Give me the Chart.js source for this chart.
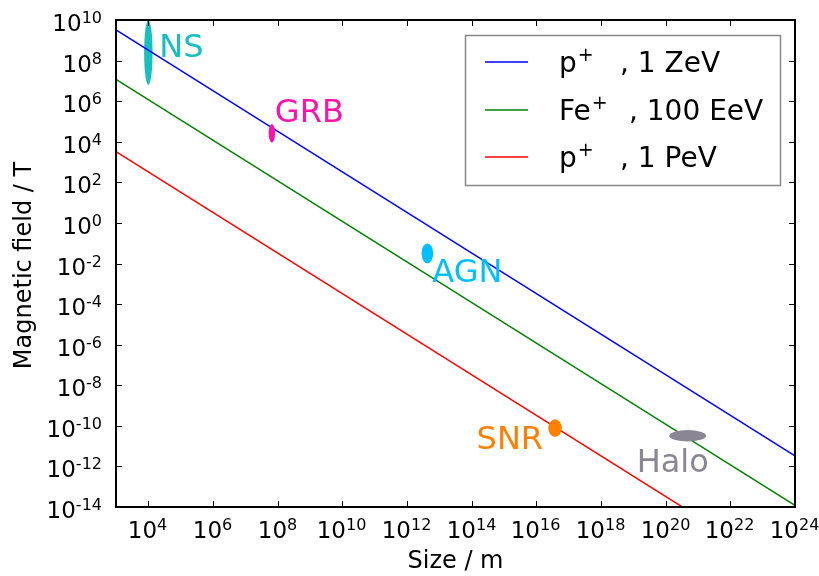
<!DOCTYPE html>
<html>
<head>
<meta charset="utf-8">
<script src="https://cdn.jsdelivr.net/npm/chart.js@4/dist/chart.umd.min.js"></script>
<style>
  html, body { margin: 0; padding: 0; background: #fff; }
  #hillas { display: block; }
</style>
</head>
<body>
<canvas id="hillas" width="819" height="576"></canvas>
<script>
// ============================================================================
// HILLAS PLOT
// Maximum confinement field vs. accelerator size, with candidate sources
// ============================================================================

// Axis ranges (powers of ten) and labelled decades
const sizeRange = [1e3, 1e24];
const fieldRange = [1e-14, 1e10];
const sizeTickExps = [4, 6, 8, 10, 12, 14, 16, 18, 20, 22, 24];
const fieldTickExps = [-14, -12, -10, -8, -6, -4, -2, 0, 2, 4, 6, 8, 10];

// Confinement lines B = E / (Z e c R), given at the two ends of the size range
const lineSizes = [1e3, 1e24];
const protonZeV = [3.3e9, 3.3e-12];
const ironEeV = [1.2e7, 1.2e-14];
const protonPeV = [3.3e3, 3.3e-18];

const seriesParts = [
    { base: 'p', sup: '+', tail: ', 1 ZeV' },
    { base: 'Fe', sup: '+', tail: ', 100 EeV' },
    { base: 'p', sup: '+', tail: ', 1 PeV' }
];

// Source regions, log10 of size (m) and field (T)
const sourceNames = ['NS', 'GRB', 'AGN', 'SNR', 'Halo'];
const sourceLogSize = [[3.87, 4.13], [7.72, 7.92], [12.45, 12.81], [16.37, 16.79], [20.11, 21.25]];
const sourceLogField = [[6.8, 10.0], [3.96, 4.88], [-1.99, -1.01], [-10.54, -9.68], [-10.77, -10.21]];

// Drawing styles
const FONT = '"DejaVu Sans", "Liberation Sans", sans-serif';
const lineColors = ['#0000ff', '#008000', '#ff0000'];
const sourceColors = ['#17bfbf', '#ff14aa', '#00bfff', '#ff8000', '#8a8694'];
const sourceOnTop = [false, true, true, true, true];
const sourceLabelOffset = [[11, 4.5, 'left'], [3, -11.6, 'left'], [5, 28.4, 'left'], [-12, 21.3, 'right'], [-51, 36, 'left']];

function toPoints(ys) {
    return lineSizes.map((x, i) => ({ x: x, y: ys[i] }));
}

function drawPower(ctx, x, baseline, exp, align) {
    const base = '10';
    const sup = String(exp);
    ctx.font = '23px ' + FONT;
    const wb = ctx.measureText(base).width;
    ctx.font = '16px ' + FONT;
    const ws = ctx.measureText(sup).width;
    const total = wb + ws;
    const x0 = align === 'right' ? x - total : x - total / 2;
    ctx.textAlign = 'left';
    ctx.textBaseline = 'alphabetic';
    ctx.font = '23px ' + FONT;
    ctx.fillText(base, x0, baseline);
    ctx.font = '16px ' + FONT;
    ctx.fillText(sup, x0 + wb, baseline - 8);
}

function drawSources(chart, onTop) {
    const { ctx, chartArea: area } = chart;
    const xs = chart.scales.x, ys = chart.scales.y;
    ctx.save();
    ctx.beginPath();
    ctx.rect(area.left, area.top, area.right - area.left, area.bottom - area.top);
    ctx.clip();
    sourceNames.forEach((name, i) => {
        if (sourceOnTop[i] !== onTop) return;
        const x1 = xs.getPixelForValue(Math.pow(10, sourceLogSize[i][0]));
        const x2 = xs.getPixelForValue(Math.pow(10, sourceLogSize[i][1]));
        const y1 = ys.getPixelForValue(Math.pow(10, sourceLogField[i][0]));
        const y2 = ys.getPixelForValue(Math.pow(10, sourceLogField[i][1]));
        ctx.fillStyle = sourceColors[i];
        ctx.beginPath();
        ctx.ellipse((x1 + x2) / 2, (y1 + y2) / 2, Math.abs(x2 - x1) / 2, Math.abs(y2 - y1) / 2, 0, 0, Math.PI * 2);
        ctx.fill();
    });
    ctx.restore();
}

const hillasPlugin = {
    id: 'hillas',
    beforeDatasetsDraw(chart) {
        drawSources(chart, false);
    },
    afterDatasetsDraw(chart) {
        drawSources(chart, true);
    },
    afterDraw(chart) {
        const { ctx, chartArea: area } = chart;
        const xs = chart.scales.x, ys = chart.scales.y;
        ctx.save();

        // source names
        ctx.font = '32px ' + FONT;
        ctx.textBaseline = 'alphabetic';
        sourceNames.forEach((name, i) => {
            const cx = (xs.getPixelForValue(Math.pow(10, sourceLogSize[i][0])) + xs.getPixelForValue(Math.pow(10, sourceLogSize[i][1]))) / 2;
            const cy = (ys.getPixelForValue(Math.pow(10, sourceLogField[i][0])) + ys.getPixelForValue(Math.pow(10, sourceLogField[i][1]))) / 2;
            const [dx, dy, align] = sourceLabelOffset[i];
            ctx.fillStyle = sourceColors[i];
            ctx.textAlign = align;
            ctx.fillText(name, cx + dx, cy + dy);
        });

        // frame
        ctx.strokeStyle = '#000';
        ctx.lineWidth = 2;
        ctx.strokeRect(area.left, area.top, area.right - area.left, area.bottom - area.top);

        // tick marks on all four sides, labels on left and bottom
        ctx.lineWidth = 1;
        ctx.fillStyle = '#000';
        sizeTickExps.forEach(e => {
            const x = Math.round(xs.getPixelForValue(Math.pow(10, e))) + 0.5;
            ctx.beginPath();
            ctx.moveTo(x, area.bottom); ctx.lineTo(x, area.bottom - 6);
            ctx.moveTo(x, area.top); ctx.lineTo(x, area.top + 6);
            ctx.stroke();
            drawPower(ctx, x - 1, area.bottom + 31, e, 'center');
        });
        fieldTickExps.forEach(e => {
            const y = Math.round(ys.getPixelForValue(Math.pow(10, e))) + 0.5;
            ctx.beginPath();
            ctx.moveTo(area.left, y); ctx.lineTo(area.left + 6, y);
            ctx.moveTo(area.right, y); ctx.lineTo(area.right - 6, y);
            ctx.stroke();
            drawPower(ctx, area.left - 14, y + 10, e, 'right');
        });

        // axis titles
        ctx.font = '24px ' + FONT;
        ctx.textAlign = 'center';
        ctx.textBaseline = 'alphabetic';
        ctx.fillText('Size / m', (area.left + area.right) / 2, 568);
        ctx.save();
        ctx.translate(31, (area.top + area.bottom) / 2 + 2);
        ctx.rotate(-Math.PI / 2);
        ctx.fillText('Magnetic field / T', 0, 0);
        ctx.restore();

        // legend
        ctx.fillStyle = '#fff';
        ctx.fillRect(465.5, 35.5, 315, 150);
        ctx.strokeStyle = '#888';
        ctx.lineWidth = 1.5;
        ctx.strokeRect(465.5, 35.5, 315, 150);
        const rowY = [62, 110, 157];
        const tailX = [620, 629, 620];
        chart.data.datasets.forEach((ds, i) => {
            const y = rowY[i];
            ctx.strokeStyle = ds.borderColor;
            ctx.lineWidth = 1.5;
            ctx.beginPath();
            ctx.moveTo(485, y); ctx.lineTo(528, y);
            ctx.stroke();
            const part = seriesParts[i];
            ctx.fillStyle = '#000';
            ctx.textAlign = 'left';
            ctx.font = '28px ' + FONT;
            ctx.fillText(part.base, 559, y + 10);
            const wb = ctx.measureText(part.base).width;
            ctx.font = '19px ' + FONT;
            ctx.fillText(part.sup, 559 + wb + 1, y - 1);
            ctx.font = '28px ' + FONT;
            ctx.fillText(part.tail, tailX[i], y + 10);
        });

        ctx.restore();
    }
};

const ctx = document.getElementById('hillas').getContext('2d');

new Chart(ctx, {
    type: 'line',
    data: {
        datasets: [
            { label: 'p+ , 1 ZeV', data: toPoints(protonZeV), borderColor: lineColors[0] },
            { label: 'Fe+ , 100 EeV', data: toPoints(ironEeV), borderColor: lineColors[1] },
            { label: 'p+ , 1 PeV', data: toPoints(protonPeV), borderColor: lineColors[2] }
        ]
    },
    options: {
        responsive: false,
        animation: false,
        devicePixelRatio: 1,
        layout: { padding: { left: 116, top: 20, right: 24, bottom: 69 } },
        plugins: {
            legend: { display: false },
            tooltip: { enabled: false }
        },
        elements: {
            point: { radius: 0 },
            line: { borderWidth: 1.5, tension: 0, fill: false }
        },
        scales: {
            x: { type: 'logarithmic', min: sizeRange[0], max: sizeRange[1], display: false },
            y: { type: 'logarithmic', min: fieldRange[0], max: fieldRange[1], display: false }
        }
    },
    plugins: [hillasPlugin]
});
</script>
</body>
</html>
